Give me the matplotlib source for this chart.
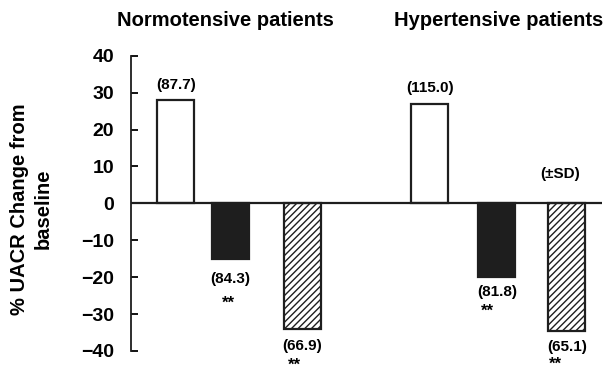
import numpy as np
import matplotlib.pyplot as plt

plt.rcParams['font.family'] = ['Liberation Sans', 'DejaVu Sans']
plt.rcParams['font.weight'] = 'bold'
plt.rcParams['axes.labelweight'] = 'bold'
plt.rcParams['hatch.linewidth'] = 1.0

# 数据
groups = ['Normotensive patients', 'Hypertensive patients']
treatments = ['placebo', 'drug', 'combination']
normo_change = [28, -15, -34]
hyper_change = [27, -20, -34.5]
normo_sd = ['(87.7)', '(84.3)', '(66.9)']
hyper_sd = ['(115.0)', '(81.8)', '(65.1)']
normo_sig = ['', '**', '**']
hyper_sig = ['', '**', '**']
yticks = [40, 30, 20, 10, 0, -10, -20, -30, -40]

# 布局（像素单位）
pos = [[44.7, 99.5, 171.5], [299, 366, 436]]
sig_shift = [[0, -2, -8], [0, -9, -11]]
lab_off = [[0, 20, 17], [0, 15, 16]]
sig_off = [[0, 42, 33], [0, 31, 31]]
width = 37
faces = ['white', '#1e1e1e', 'white']
hatches = [None, None, '/////']

px = 72 / 100  # 像素 -> 点

fig = plt.figure(figsize=(6.11, 3.67), dpi=100)
ax = fig.add_axes([0.2144, 0.0436, 0.7706, 0.8046])

for g, (vals, sds, sigs) in enumerate([(normo_change, normo_sd, normo_sig),
                                        (hyper_change, hyper_sd, hyper_sig)]):
    for i, v in enumerate(vals):
        x = pos[g][i]
        ax.bar(x, v, width=width, color=faces[i], edgecolor='#1e1e1e',
               linewidth=1.6, hatch=hatches[i], zorder=2)
        if v > 0:
            ax.annotate(sds[i], (x, v), xytext=(0, 6), textcoords='offset points',
                        ha='center', va='bottom', fontsize=11)
        else:
            ax.annotate(sds[i], (x, v), xytext=(0, -lab_off[g][i] * px),
                        textcoords='offset points', ha='center', va='center',
                        fontsize=11)
            ax.annotate(sigs[i], (x + sig_shift[g][i], v),
                        xytext=(0, -(sig_off[g][i] + 3) * px),
                        textcoords='offset points', ha='center', va='center',
                        fontsize=12)

ax.axhline(0, color='#1e1e1e', lw=1.6, zorder=3)
ax.text(429, 6, '(±SD)', ha='center', va='bottom', fontsize=11)

ax.set_xlim(0, 471)
ax.set_ylim(-40, 40)
ax.set_yticks(yticks)
ax.set_yticklabels([str(t).replace('-', '\u2212') for t in yticks], fontsize=14)
ax.tick_params(axis='y', direction='in', length=5, width=1.3, pad=12)
ax.set_xticks([])
for s in ['top', 'right', 'bottom']:
    ax.spines[s].set_visible(False)
ax.spines['left'].set_linewidth(1.3)
ax.spines['left'].set_color('#1e1e1e')

ax.set_ylabel('% UACR Change from\nbaseline', fontsize=14.5, va='center',
              linespacing=1.3)
ax.yaxis.set_label_coords(-0.212, 0.481)

fig.text(225.5 / 611, 1 - 21 / 367, groups[0], ha='center', va='center', fontsize=14.5)
fig.text(499 / 611, 1 - 21 / 367, groups[1], ha='center', va='center', fontsize=14.5)

fig.savefig('out.png', dpi=100)
